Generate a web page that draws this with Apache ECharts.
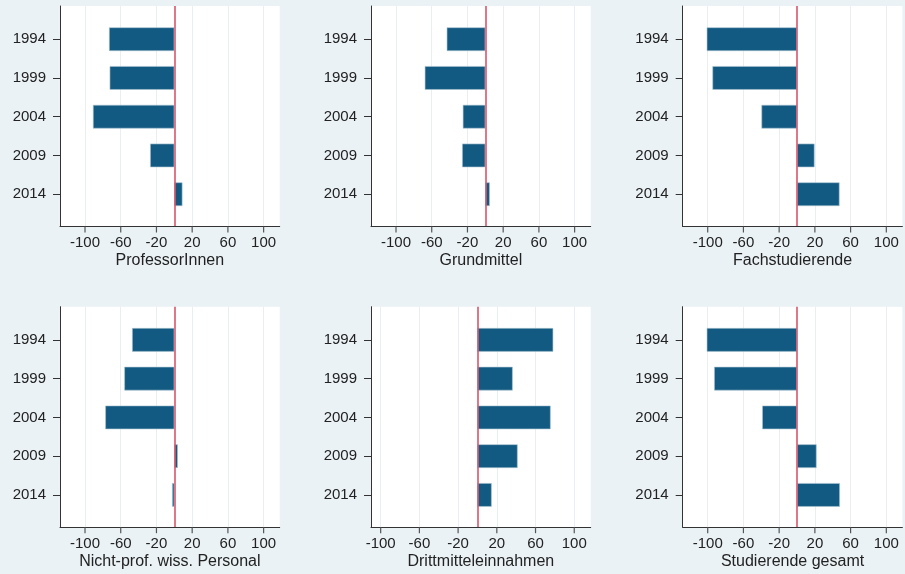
<!DOCTYPE html>
<html>
<head>
<meta charset="utf-8">
<script src="https://cdn.jsdelivr.net/npm/echarts@6/dist/echarts.min.js"></script>
<style>
html,body{margin:0;padding:0;background:#eaf2f5;}
#chart{width:905px;height:574px;}
</style>
</head>
<body>
<div id="chart"></div>
<script>
// ---- data ----
const years = ['1994', '1999', '2004', '2009', '2014'];
const panelTitles = ['ProfessorInnen', 'Grundmittel', 'Fachstudierende',
  'Nicht-prof. wiss. Personal', 'Drittmitteleinnahmen', 'Studierende gesamt'];
const professorInnen = [-73.1, -72.4, -91.1, -27.1, 9.1];
const grundmittel = [-43.2, -67.8, -25.2, -26.0, 5.0];
const fachstudierende = [-101.1, -94.7, -39.8, 19.6, 47.6];
const nichtProfPersonal = [-47.3, -56.0, -77.3, 3.9, -2.5];
const drittmittel = [78.3, 36.4, 75.6, 41.5, 14.7];
const studierendeGesamt = [-101.1, -92.8, -39.0, 21.9, 48.0];
const xTickValues = [-100, -60, -20, 20, 60, 100];
const xTickLabels = ['-100', '-60', '-20', '20', '60', '100'];
const tickMin = -100, tickMax = 100;
const xRanges = [[-128, 118], [-128, 118], [-128, 118], [-128, 118], [-110, 117], [-128, 118]];
const seriesData = [professorInnen, grundmittel, fachstudierende, nichtProfPersonal, drittmittel, studierendeGesamt];

// ---- layout ----
const colLeft = [60, 371, 682.7];
const plotW = 219.7;
const rowTop = [6, 306.7];
const plotH = 220.5;
const innerTopOff = 13.8;
const innerH = 193.8;
const TICK_LEN = 6;

const FONT = 'Liberation Sans, Arial, sans-serif';
const AXIS = '#333333';
const grids = [], xAxes = [], yAxes = [], series = [];
const panels = [];

for (let p = 0; p < 6; p++) {
  const r = Math.floor(p / 3), c = p % 3;
  const left = colLeft[c], top = rowTop[r];
  const [mn, mx] = xRanges[p];
  const g0 = grids.length;          // frame grid
  const g1 = g0 + 1;                // tick-label grid (spans -100..100)
  const g2 = g0 + 2;                // bar grid
  panels.push({ g: g0, left: left, top: top, mn: mn, mx: mx });
  const tLeft = left + (tickMin - mn) / (mx - mn) * plotW;
  const tW = (tickMax - tickMin) / (mx - mn) * plotW;

  grids.push({ left: left, top: top, width: plotW, height: plotH, show: true,
    backgroundColor: '#ffffff', borderWidth: 0 });
  grids.push({ left: tLeft, top: top, width: tW, height: plotH, show: false });
  grids.push({ left: left, top: top + innerTopOff, width: plotW, height: innerH, show: false });

  // frame axes
  xAxes.push({
    gridIndex: g0, type: 'value', min: mn, max: mx, position: 'bottom',
    name: panelTitles[p], nameLocation: 'middle', nameGap: 26,
    nameTextStyle: { fontFamily: FONT, fontSize: 16, color: '#222' },
    axisLine: { show: true, onZero: false, lineStyle: { color: AXIS, width: 1 } },
    axisTick: { show: false }, axisLabel: { show: false }, splitLine: { show: false }, z: 5
  });
  yAxes.push({
    gridIndex: g0, type: 'value', min: 0, max: 1, position: 'left',
    axisLine: { show: true, onZero: false, lineStyle: { color: AXIS, width: 1 } },
    axisTick: { show: false }, axisLabel: { show: false }, splitLine: { show: false }, z: 5
  });
  // tick-label axes (category positions -100 ... 100, evenly spaced)
  xAxes.push({
    gridIndex: g1, type: 'category', data: xTickLabels, boundaryGap: false, position: 'bottom',
    axisLine: { show: false, onZero: false },
    axisTick: { show: false },
    axisLabel: { show: true, interval: 0, margin: 9, fontFamily: FONT, fontSize: 15, color: '#222' },
    splitLine: { show: true, interval: 0, lineStyle: { color: '#e8eef1', width: 1 } }
  });
  yAxes.push({
    gridIndex: g1, type: 'value', min: 0, max: 1, show: false
  });
  // bar axes
  xAxes.push({
    gridIndex: g2, type: 'value', min: mn, max: mx, show: false, splitLine: { show: false }
  });
  yAxes.push({
    gridIndex: g2, type: 'category', data: years, inverse: true, position: 'left',
    axisLine: { show: false, onZero: false },
    axisTick: { show: true, alignWithLabel: true, length: 7, lineStyle: { color: AXIS } },
    axisLabel: { margin: 14, fontFamily: FONT, fontSize: 15, color: '#222' },
    splitLine: { show: false }
  });

  series.push({
    type: 'bar', xAxisIndex: g2, yAxisIndex: g2,
    data: seriesData[p], barWidth: '61%',
    itemStyle: { color: '#135a82', borderColor: '#a9c4d2', borderWidth: 0.6 },
    silent: true, animation: false, z: 3
  });
  // reference line at zero
  series.push({
    type: 'line', xAxisIndex: g0, yAxisIndex: g0, data: [],
    silent: true, animation: false, z: 4,
    markLine: {
      symbol: 'none', silent: true, animation: false,
      label: { show: false },
      lineStyle: { color: '#d8566b', width: 1.6, type: 'solid' },
      data: [{ xAxis: 0 }]
    }
  });
}

const chart = echarts.init(document.getElementById('chart'), null, { renderer: 'canvas' });
chart.setOption({
  backgroundColor: '#eaf2f5',
  animation: false,
  grid: grids, xAxis: xAxes, yAxis: yAxes, series: series
});

// x-axis tick marks, positioned through each panel's frame x scale
const tickGraphics = [];
panels.forEach(function (pn) {
  xTickValues.forEach(function (v) {
    let pt = null;
    try {
      pt = chart.convertToPixel({ gridIndex: pn.g }, [v, 0]);
    } catch (e) { pt = null; }
    if (!pt || !isFinite(pt[0]) || !isFinite(pt[1])) {
      // fallback: same linear mapping as the frame axis
      pt = [pn.left + (v - pn.mn) / (pn.mx - pn.mn) * plotW, pn.top + plotH];
    }
    tickGraphics.push({
      type: 'rect', zlevel: 1, z: 100, silent: true,
      shape: { x: pt[0] - 0.6, y: pt[1], width: 1.2, height: TICK_LEN },
      style: { fill: '#555555' }
    });
  });
});
chart.setOption({ graphic: tickGraphics });
</script>
</body>
</html>
